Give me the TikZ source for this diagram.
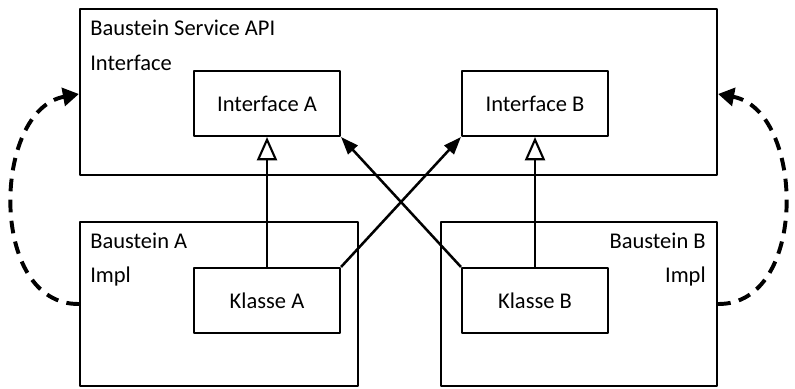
\documentclass[tikz,border=0pt]{standalone}
\usepackage{fontspec}
\setmainfont{Carlito}
\usetikzlibrary{arrows.meta}
\begin{document}
\begin{tikzpicture}[x=0.025cm,y=-0.025cm,line join=round,>=Triangle,font=\fontsize{16}{19}\selectfont,
	kasten/.style={draw,line width=1.5pt,inner sep=0pt},
	erbt/.style={line width=1.8pt,-{Triangle[open,length=0.58cm,width=0.5cm,line width=1.5pt]}},
	nutzt/.style={line width=1.8pt,-{Triangle[length=0.44cm,width=0.32cm]}},
	bindet/.style={line width=2.8pt,dash pattern=on 9pt off 6pt,-{Triangle[length=0.4cm,width=0.45cm]}}]
	% Parameter
	\def\px{0.025cm} % ein Pixel
	\useasboundingbox (0,0) rectangle (795,388);

	% Baustein Service API
	\node[kasten,minimum width=637*\px,minimum height=166*\px] (api) at (398.5,92) {};
	\node[anchor=base west,inner sep=0pt] (apititel) at (90,35) {Baustein Service API};
	\node[anchor=base west,inner sep=0pt] (apityp) at (90,70) {Interface};
	\node[kasten,minimum width=146*\px,minimum height=65*\px] (ifa) at (267,103.5) {Interface A};
	\node[kasten,minimum width=146*\px,minimum height=65*\px] (ifb) at (535,103.5) {Interface B};

	% Baustein A
	\node[kasten,minimum width=278*\px,minimum height=164*\px] (bsa) at (219,304) {};
	\node[anchor=base west,inner sep=0pt] (bsatitel) at (90,248) {Baustein A};
	\node[anchor=base west,inner sep=0pt] (bsatyp) at (90,282) {Impl};
	\node[kasten,minimum width=146*\px,minimum height=65*\px] (ka) at (267,300.5) {Klasse A};

	% Baustein B
	\node[kasten,minimum width=276*\px,minimum height=164*\px] (bsb) at (579,304) {};
	\node[anchor=base east,inner sep=0pt] (bsbtitel) at (706,248) {Baustein B};
	\node[anchor=base east,inner sep=0pt] (bsbtyp) at (706,282) {Impl};
	\node[kasten,minimum width=146*\px,minimum height=65*\px] (kb) at (535,300.5) {Klasse B};

	% Vererbung
	\draw[erbt] (ka.north) -- (ifa.south);
	\draw[erbt] (kb.north) -- (ifb.south);
	% Kreuzweise Nutzung
	\draw[nutzt] (ka.north east) -- (ifb.south west);
	\draw[nutzt] (kb.north west) -- (ifa.south east);

	% Gestrichelte Boegen
	\draw[bindet] (bsa.west) .. controls (-12,305) and (-8,110) .. ([yshift=-2*\px]api.west);
	\draw[bindet] (bsb.east) .. controls (809,305) and (805,110) .. ([yshift=-2*\px]api.east);
\end{tikzpicture}
\end{document}
